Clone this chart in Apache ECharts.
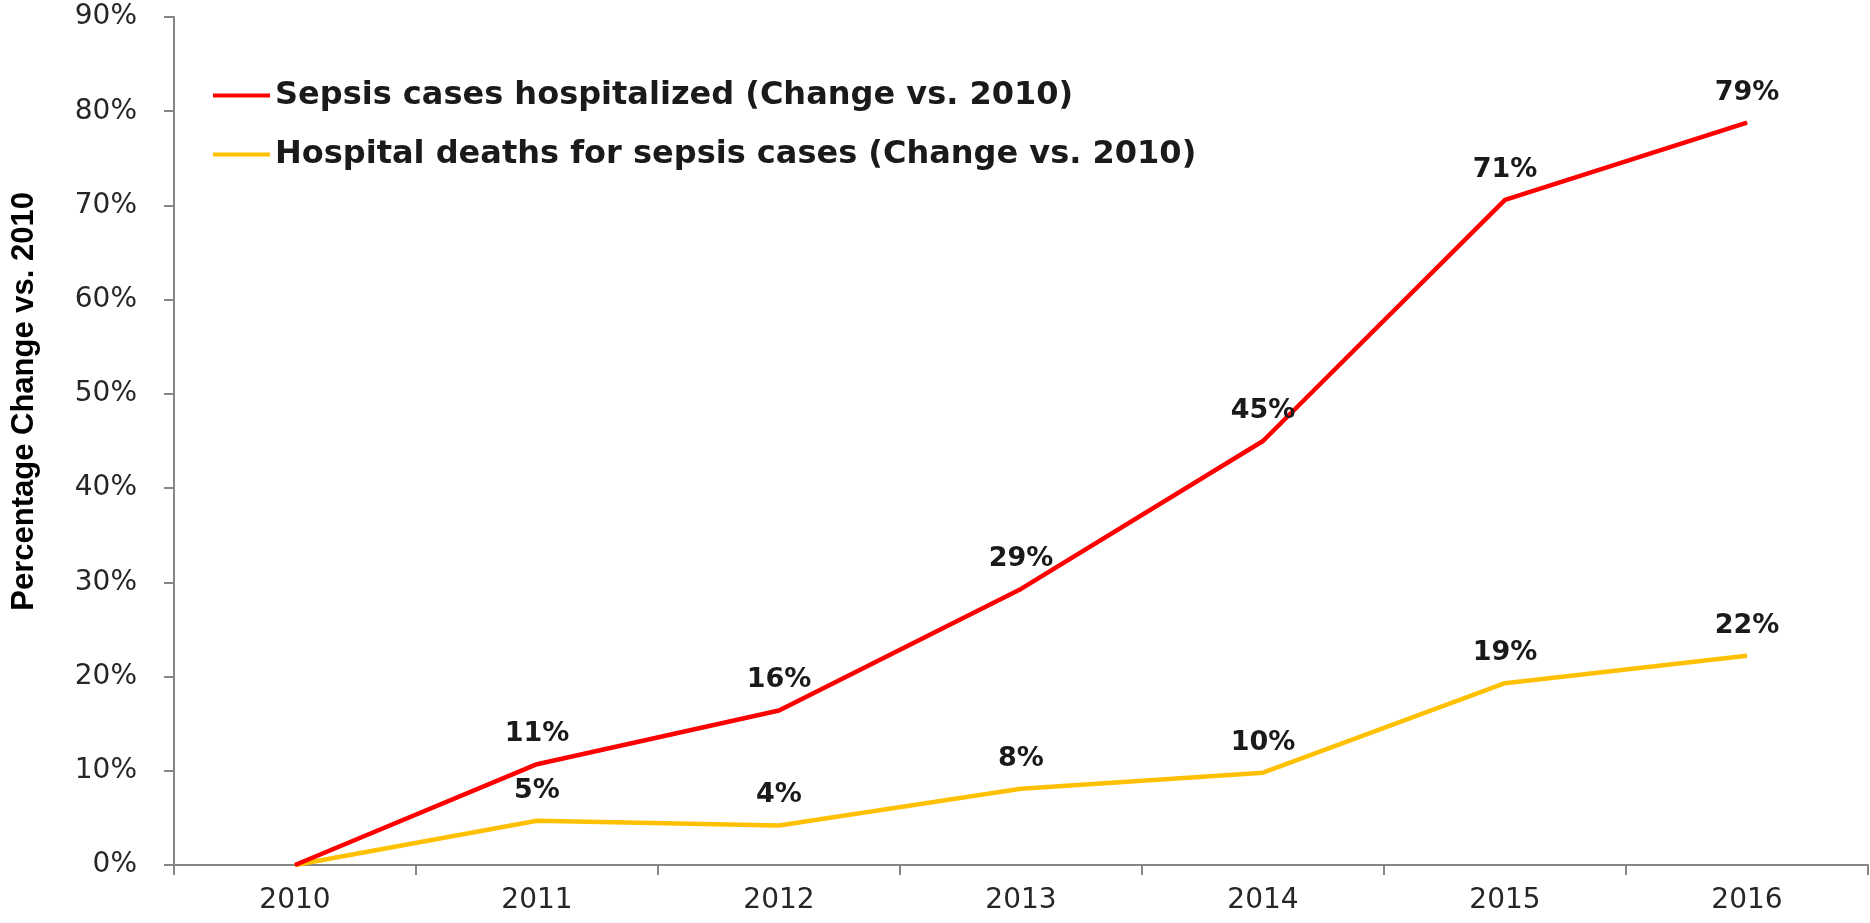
<!DOCTYPE html>
<html>
<head>
<meta charset="utf-8">
<script src="https://cdn.jsdelivr.net/npm/echarts@6/dist/echarts.min.js"></script>
<style>
html,body{margin:0;padding:0;background:#fff;}
#chart{width:1870px;height:923px;}
</style>
</head>
<body>
<div id="chart"></div>
<script>
const years = ['2010','2011','2012','2013','2014','2015','2016'];
const sepsisHospitalized = [0, 10.7, 16.4, 29.3, 45.0, 70.6, 78.8];
const sepsisDeaths = [0, 4.7, 4.2, 8.1, 9.8, 19.3, 22.2];
const seriesNames = ['Sepsis cases hospitalized (Change vs. 2010)', 'Hospital deaths for sepsis cases (Change vs. 2010)'];
const yAxisTitle = 'Percentage Change vs. 2010';

const chart = echarts.init(document.getElementById('chart'));
const labelCfg = {
  show: true,
  position: 'top',
  distance: 16,
  fontFamily: 'DejaVu Sans',
  fontWeight: 'bold',
  fontSize: 27,
  color: '#1a1a1a',
  formatter: p => p.dataIndex === 0 ? '' : Math.round(p.value) + '%'
};
chart.setOption({
  animation: false,
  backgroundColor: '#ffffff',
  grid: {left: 174, right: 2, top: 17, bottom: 58, containLabel: false},
  graphic: [{
    type: 'text',
    left: 9,
    top: 192,
    rotation: Math.PI / 2,
    style: {text: yAxisTitle, fontFamily: 'Liberation Sans', fontWeight: 'bold', fontSize: 31, fill: '#000'}
  }],
  legend: {
    orient: 'vertical',
    left: 208,
    top: 74,
    itemGap: 26,
    itemWidth: 57,
    itemHeight: 4,
    icon: 'rect',
    textStyle: {fontFamily: 'DejaVu Sans', fontWeight: 'bold', fontSize: 32, color: '#1a1a1a', lineHeight: 33},
    data: seriesNames
  },
  xAxis: {
    type: 'category',
    data: years,
    boundaryGap: true,
    axisLine: {lineStyle: {color: '#868686', width: 2}},
    axisTick: {show: true, length: 10, inside: false, lineStyle: {color: '#868686', width: 2}},
    axisLabel: {fontFamily: 'DejaVu Sans', fontSize: 28, color: '#262626', margin: 22}
  },
  yAxis: {
    type: 'value',
    min: 0, max: 90, interval: 10,
    axisLine: {show: true, lineStyle: {color: '#868686', width: 2}},
    axisTick: {show: true, length: 10, lineStyle: {color: '#868686', width: 2}},
    splitLine: {show: false},
    axisLabel: {fontFamily: 'DejaVu Sans', fontSize: 28, color: '#262626', margin: 37, formatter: '{value}%'}
  },
  series: [
    {
      name: seriesNames[0], type: 'line', data: sepsisHospitalized,
      symbol: 'circle', symbolSize: 1, showSymbol: true,
      lineStyle: {color: '#ff0000', width: 4.5},
      itemStyle: {color: '#ff0000'},
      label: labelCfg,
      z: 3
    },
    {
      name: seriesNames[1], type: 'line', data: sepsisDeaths,
      symbol: 'circle', symbolSize: 1, showSymbol: true,
      lineStyle: {color: '#ffc000', width: 4.5},
      itemStyle: {color: '#ffc000'},
      label: labelCfg,
      z: 2
    }
  ]
});
</script>
</body>
</html>
